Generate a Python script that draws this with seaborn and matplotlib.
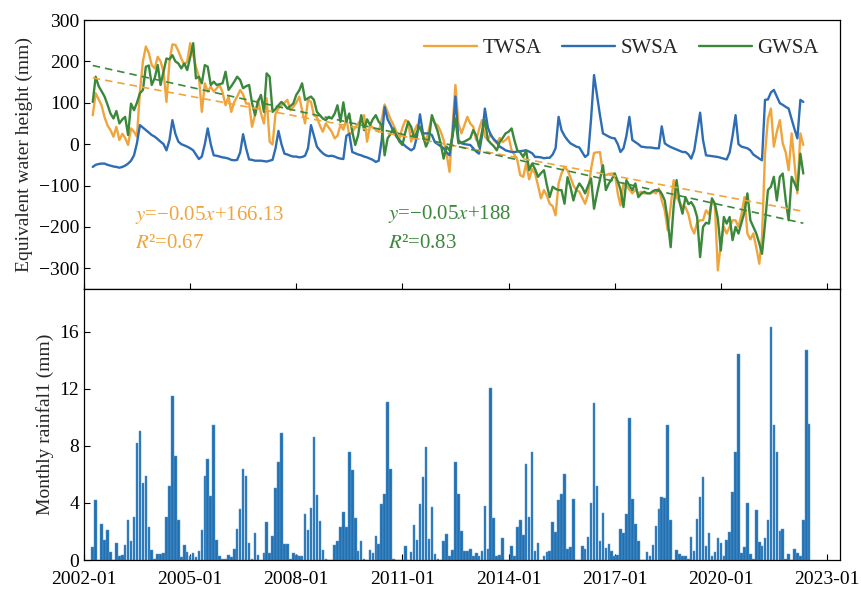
import numpy as np
import pandas as pd
import matplotlib
matplotlib.use("Agg")
import matplotlib.pyplot as plt
import matplotlib.dates as mdates
import seaborn as sns

# monthly storage anomalies (mm), 2002-04 .. 2022-05
twsa = [
    70, 123, 108, 94, 65, 45, 34, 18, 42,
    10, 25, 15, -2, 38, 30, 18, 127, 200, 236, 220, 191,
    183, 211, 200, 175, 102, 199, 241, 240, 225, 207, 191, 200,
    244, 215, 187, 163, 78, 147, 127, 139, 127, 135, 143, 125,
    94, 115, 78, 102, 115, 131, 120, 98, 98, 42, 70, 107,
    75, 50, 111, 6, -1, 74, 86, 94, 100, 107, 82, 90,
    100, 115, 82, 50, 107, 102, 70, 65, 45, 30, 50, 40,
    30, 14, 20, 46, 35, 62, 22, 30, 40, 50, 60, 70,
    6, 46, 40, 35, 30, 60, 96, 78, 60, 46, 30, 14,
    40, 58, 55, 6, 30, 46, 40, 25, 6, 35, 66, 50,
    45, 30, 10, -23, -67, 40, 143, 50, 26, 45, 66, 50,
    42, 10, 35, 58, 18, 10, 25, 10, 2, 15, 5, 10,
    18, -15, -25, -39, -75, -79, -47, -85, -60, -71, -100, -131,
    -111, -125, -144, -150, -172, -95, -71, -55, -63, -80, -100, -111,
    -115, -130, -144, -120, -60, -21, -20, -19, -71, -75, -72, -71,
    -71, -119, -148, -95, -100, -110, -119, -110, -119, -115, -119, -118,
    -119, -115, -119, -107, -136, -160, -208, -150, -87, -128, -140, -152,
    -152, -170, -200, -216, -190, -184, -184, -160, -170, -136, -150, -305,
    -240, -200, -216, -200, -184, -184, -200, -170, -128, -216, -230, -216,
    -250, -289, -224, -23, 60, 86, -6, 30, 58, 2, -20, -63,
    26, -50, -119, 26, -2,
]
swsa = [
    -55, -50, -48, -47, -47, -50, -52, -54, -55,
    -57, -55, -52, -47, -40, -27, 2, 46, 40, 34, 28, 22,
    18, 12, 6, 0, -15, 10, 58, 25, 6, 0, -3, -6,
    -10, -15, -25, -36, -30, 0, 38, 0, -27, -28, -30, -32,
    -33, -35, -38, -39, -38, -20, 24, -10, -37, -38, -40, -40,
    -40, -41, -42, -40, -38, -10, 32, 0, -23, -25, -28, -30,
    -30, -32, -31, -28, -10, 46, 20, -6, -15, -22, -27, -29,
    -28, -30, -33, -35, -36, 20, 25, -19, -22, -25, -27, -30,
    -32, -35, -38, -43, -40, 10, 90, 60, 46, 30, 18, 10,
    2, -5, -10, -15, -10, 20, 72, 26, 26, 26, 22, 5,
    0, -5, -10, -20, -27, 20, 115, 10, 2, 0, -1, -2,
    -10, -18, -23, 20, 86, 40, 22, 12, 5, -6, -10, -15,
    -17, -19, -19, -18, -17, -16, -15, -18, -22, -31, -31, -32,
    -34, -33, -33, -25, -10, 66, 34, 20, 10, 2, -2, -6,
    -8, -20, -31, -25, 60, 167, 120, 70, 26, 22, 18, 15,
    14, 0, -19, -10, 20, 66, 10, 5, 0, -6, -7, -8,
    -8, -9, -10, -10, 43, 2, -3, -7, -10, -13, -16, -19,
    -19, -25, -35, -15, 30, 76, 10, -27, -28, -29, -30, -31,
    -33, -35, -37, -20, 20, 70, 0, -6, -8, -10, -15, -25,
    -30, -35, -39, 107, 108, 125, 131, 115, 99, 95, 90, 86,
    60, 35, 14, 107, 102,
]
gwsa = [
    102, 163, 140, 128, 115, 95, 74, 62, 80,
    50, 60, 66, 22, 98, 82, 100, 123, 131, 187, 190, 143,
    160, 191, 143, 175, 207, 205, 215, 200, 195, 183, 195, 179,
    210, 244, 159, 163, 147, 191, 187, 143, 151, 143, 145, 147,
    175, 131, 140, 151, 163, 155, 135, 140, 143, 100, 70, 102,
    119, 78, 171, 163, 78, 85, 94, 102, 95, 86, 92, 98,
    119, 130, 147, 107, 111, 115, 107, 78, 70, 62, 58, 66,
    62, 74, 94, 54, 101, 54, 74, 30, -2, 22, 70, 34,
    60, 46, 60, 70, 54, 46, -27, 14, 25, 38, 20, 6,
    -2, 30, 54, 42, 14, 30, 42, 20, -6, 10, 70, 50,
    30, 0, -35, -6, -15, 20, 62, 2, 4, 6, 10, 14,
    34, 20, -6, 30, 58, 10, 2, -5, -15, 5, 15, 26,
    30, 38, 10, -15, -20, -31, -15, -63, -47, -60, -79, -70,
    -63, -100, -128, -103, -108, -111, -111, -144, -80, -103, -136, -110,
    -95, -105, -119, -100, -83, -156, -120, -85, -51, -111, -95, -85,
    -71, -90, -110, -152, -87, -100, -111, -95, -128, -120, -115, -119,
    -119, -113, -111, -111, -120, -136, -184, -249, -150, -87, -140, -168,
    -128, -145, -140, -152, -176, -273, -200, -190, -192, -131, -144, -180,
    -257, -176, -192, -176, -232, -200, -216, -190, -164, -119, -184, -200,
    -216, -240, -265, -192, -111, -103, -79, -136, -79, -71, -136, -184,
    -79, -95, -111, -23, -71,
]

# monthly rainfall (mm), 2002-04 .. 2022-07
rain = [
    0.9, 4.2, 0, 2.5, 1.4, 2.1, 0.55, 0, 1.2,
    0.25, 0.35, 1.05, 2.8, 1.3, 3.05, 8.2, 9.05, 5.4, 5.9, 2.35, 0.7,
    0.1, 0.4, 0.4, 0.5, 3.05, 5.2, 11.5, 7.3, 2.8, 0.2, 1.05, 0.55,
    0.25, 0.5, 0.2, 0.65, 2.1, 5.9, 7.1, 4.5, 9.45, 1.4, 0.3, 0.1,
    0.1, 0.35, 0.2, 0.8, 2.2, 3.6, 6.4, 5.9, 1.2, 0.05, 1.9, 0.35,
    0, 0.5, 2.7, 0.5, 1.7, 5.05, 6.9, 8.9, 1.1, 1.1, 0.1, 0.5,
    0.35, 0.25, 0.3, 3.2, 2.1, 3.65, 8.6, 4.55, 2.75, 0.7, 0.1, 0,
    0, 1.05, 1.3, 2.3, 3.4, 2.3, 7.55, 6.3, 2.95, 0.6, 1.3, 0.1,
    0, 0.7, 0.5, 1.65, 1.1, 3.9, 4.65, 11.1, 6.4, 0.1, 0, 0,
    0, 0.95, 0, 0.55, 2.45, 1.4, 3.9, 5.85, 7.9, 1.5, 3.75, 0.4,
    0.05, 0, 1.3, 1.85, 0.25, 0.7, 6.9, 4.6, 2.0, 0.6, 0.65, 0.8,
    0.25, 0.5, 0.25, 0.65, 3.8, 0.75, 12.05, 2.95, 0.3, 0.35, 1.55, 0,
    0, 1.0, 0.25, 2.35, 2.8, 1.75, 6.7, 3.05, 7.55, 0.65, 1.2, 0,
    0.3, 0.55, 0.6, 2.7, 1.95, 4.2, 4.65, 6.0, 0.8, 0.9, 4.25, 0,
    0, 1.0, 0.8, 1.6, 4.0, 11.0, 5.2, 1.3, 3.3, 0.85, 1.1, 0.6,
    0.3, 0.35, 2.15, 1.9, 3.25, 9.95, 4.25, 2.5, 1.35, 0, 0, 0.55,
    0.25, 1.05, 2.4, 3.55, 4.45, 4.35, 9.5, 2.8, 0, 0.7, 0.4, 0.3,
    0.3, 0.1, 1.6, 0.65, 2.9, 4.4, 5.85, 1.0, 1.9, 0.25, 0.55, 1.55,
    1.2, 0.25, 1.4, 1.95, 4.8, 7.55, 14.45, 0.5, 0.9, 4.0, 0.4, 0.1,
    3.5, 1.25, 1.0, 1.55, 2.8, 16.3, 9.5, 7.6, 2.0, 2.15, 0.1, 0.4,
    0, 0.75, 0.5, 0.25, 2.8, 14.7, 9.55,
]

series_names = ["TWSA", "SWSA", "GWSA"]
colors = {"TWSA": "#F0A53C", "SWSA": "#2E6DB4", "GWSA": "#3B873B"}
bar_color = "#2270B0"

dates = pd.date_range("2002-04-01", periods=len(twsa), freq="MS")
rain_dates = pd.date_range("2002-04-01", periods=len(rain), freq="MS")
xnum = mdates.date2num(dates)
rain_x = mdates.date2num(rain_dates)

df = pd.DataFrame({"date": xnum, "TWSA": twsa, "SWSA": swsa, "GWSA": gwsa})
long_df = df.melt(id_vars="date", var_name="series", value_name="mm")

sns.set_style("ticks")
plt.rcParams["font.family"] = ["Liberation Serif", "DejaVu Serif"]
plt.rcParams["mathtext.fontset"] = "stix"
plt.rcParams["axes.unicode_minus"] = True

fig = plt.figure(figsize=(8.61, 5.90), dpi=100)
ax1 = fig.add_axes([0.0976, 0.5102, 0.8780, 0.4559])
ax2 = fig.add_axes([0.0976, 0.0508, 0.8780, 0.4594])

# TOP: storage anomalies
sns.lineplot(data=long_df, x="date", y="mm", hue="series",
             hue_order=series_names, palette=colors, lw=1.7, ax=ax1)

for name, vals in [("TWSA", twsa), ("GWSA", gwsa)]:
    sns.regplot(x=xnum, y=np.array(vals, dtype=float), scatter=False, ci=None,
                color=colors[name], ax=ax1,
                line_kws=dict(ls=(0, (4.5, 3)), lw=1.2))

handles, labels = ax1.get_legend_handles_labels()
ax1.legend(handles[:3], labels[:3], ncol=3, loc="upper right",
           bbox_to_anchor=(0.997, 1.0), frameon=False, fontsize=15,
           handlelength=2.55, columnspacing=1.0, handletextpad=0.25)

ax1.text(0.067, 0.275, r"$y$=−0.05$x$+166.13", transform=ax1.transAxes,
         color=colors["TWSA"], fontsize=15, va="center")
ax1.text(0.067, 0.170, r"$R$²=0.67", transform=ax1.transAxes,
         color=colors["TWSA"], fontsize=15, va="center")
ax1.text(0.402, 0.280, r"$y$=−0.05$x$+188", transform=ax1.transAxes,
         color=colors["GWSA"], fontsize=15, va="center")
ax1.text(0.402, 0.170, r"$R$²=0.83", transform=ax1.transAxes,
         color=colors["GWSA"], fontsize=15, va="center")

ax1.set_ylim(-350, 300)
ax1.set_yticks([-300, -200, -100, 0, 100, 200, 300])
ax1.set_ylabel("Equivalent water height (mm)", fontsize=14)
ax1.set_xlabel("")

# BOTTOM: rainfall
sns.barplot(x=rain_x, y=rain, native_scale=True, color=bar_color,
            saturation=1, edgecolor="#5B9BD5", linewidth=0.35, width=0.95,
            errorbar=None, ax=ax2)
ax2.set_ylim(0, 19)
ax2.set_yticks([0, 4, 8, 12, 16])
ax2.set_ylabel("Monthly rainfal1 (mm)", fontsize=14)
ax2.set_xlabel("")

xticks = mdates.date2num(pd.to_datetime([f"{y}-01-01" for y in range(2002, 2024, 3)]))
xmin = mdates.date2num(pd.Timestamp("2002-01-05"))
xmax = mdates.date2num(pd.Timestamp("2023-05-15"))
for ax in (ax1, ax2):
    ax.set_xlim(xmin, xmax)
    ax.set_xticks(xticks)
    ax.xaxis.set_major_formatter(mdates.DateFormatter("%Y-%m"))
    ax.tick_params(direction="in", length=4, width=0.8, labelsize=14,
                   colors="black")
    for s in ax.spines.values():
        s.set_color("black")
        s.set_linewidth(0.9)
ax1.tick_params(labelbottom=False)
ax2.tick_params(axis="x", pad=8)

plt.savefig("out.png", dpi=100)
